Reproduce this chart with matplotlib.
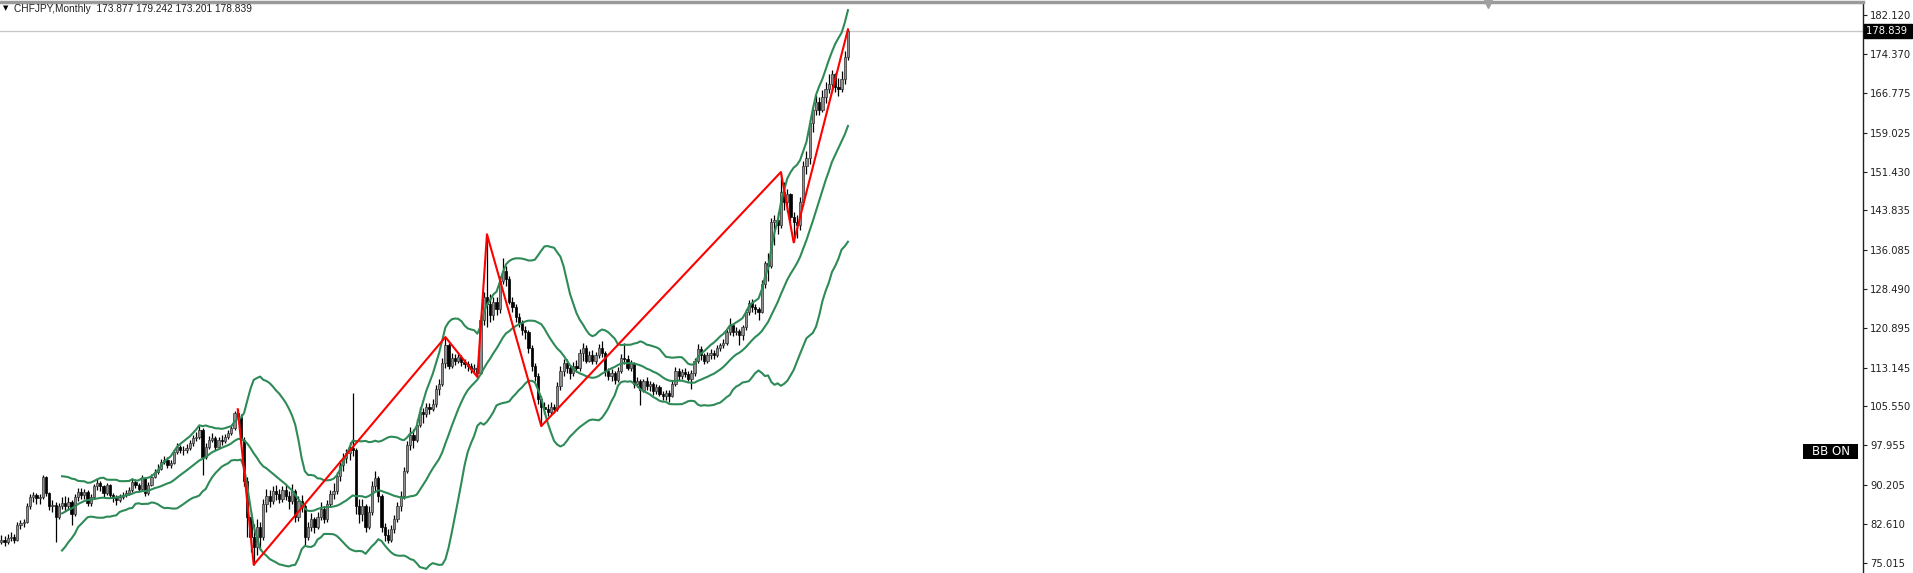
import matplotlib.pyplot as plt
import matplotlib.transforms as mtransforms
from matplotlib.patches import Rectangle
from matplotlib.lines import Line2D
import numpy as np
import pandas as pd

# CHFJPY monthly candles
title = "CHFJPY,Monthly"
last_ohlc = [173.877, 179.242, 173.201, 178.839]
first_open = 79.0

closes = [
    79.4, 79.1, 79.8, 80.1, 79.4, 82.4, 82.7, 83.0, 86.0, 87.9,
    88.2, 87.6, 87.9, 91.8, 88.6, 86.0, 86.3, 84.0, 86.0, 86.6,
    86.0, 86.9, 84.6, 87.9, 88.9, 88.2, 88.9, 86.6, 87.9, 89.9,
    90.5, 89.9, 88.6, 90.2, 88.2, 87.6, 87.3, 87.9, 88.2, 88.6,
    89.2, 90.8, 90.2, 89.5, 91.5, 88.6, 90.2, 91.8, 92.8, 93.4,
    94.7, 95.1, 94.1, 94.4, 96.7, 97.7, 97.0, 97.0, 97.4, 98.3,
    99.3, 99.6, 100.9, 95.7, 97.7, 99.0, 99.3, 97.7, 99.0, 98.7,
    99.6, 100.3, 101.3, 104.2, 103.5, 99.0, 91.0, 84.0, 80.0, 78.0,
    82.0, 80.0, 86.5, 88.0, 87.0, 89.0, 88.5, 87.5, 89.3, 88.0,
    87.0, 89.0, 84.0, 87.0, 86.0, 80.0, 82.0, 83.5, 82.0, 84.0,
    85.5, 83.5, 86.5, 88.5, 89.0, 92.0, 94.0, 95.5, 96.5, 97.5,
    97.0, 86.0, 84.5, 86.0, 82.0, 85.0, 90.0, 91.5, 88.0, 82.0,
    80.5, 79.5, 81.5, 83.5, 86.0, 88.0, 93.0, 98.0, 100.0, 99.0,
    102.0, 104.5, 104.0, 105.5, 105.0, 106.0, 109.0, 110.0, 114.0, 117.5,
    113.5, 115.0, 114.5, 115.3, 114.3, 113.8, 113.5, 112.8, 113.0, 112.0,
    122.5, 127.0, 125.5, 123.5, 126.0, 124.5, 130.0, 132.0, 130.5, 126.0,
    125.0, 123.0, 121.8, 120.5, 120.0, 117.0, 113.5, 111.5, 107.0, 105.5,
    105.0, 104.5, 105.5, 105.0, 109.5, 112.5, 114.0, 113.0, 112.0, 113.5,
    113.0, 116.0, 117.0, 114.5, 115.5, 114.5, 115.5, 117.0, 116.0, 112.5,
    111.5, 112.0, 110.8, 112.5, 115.0, 114.8, 113.0, 114.0, 110.0, 110.5,
    108.8, 110.5, 109.5, 110.0, 108.5, 109.3, 108.0, 107.5, 108.2, 107.5,
    110.0, 112.5, 111.5, 112.3, 111.8, 111.0, 112.0, 114.5, 116.8, 115.5,
    114.5, 115.6, 116.0, 115.5, 117.0, 117.5, 118.0, 120.0, 121.5, 120.0,
    120.3, 119.5, 121.0, 124.0, 125.8, 125.0, 124.5, 124.0, 129.5, 133.5,
    133.0, 141.5, 142.0, 141.0, 147.5, 145.5, 147.0, 142.5, 141.5, 141.0,
    145.5, 152.5, 154.0, 161.0, 163.5, 165.0, 163.5, 166.0, 167.5, 168.5,
    170.5, 168.0, 167.5, 169.5, 173.877, 178.839,
]

highs = [
    80.5, 80.2, 80.6, 81.0, 80.7, 82.9, 83.4, 83.6, 86.6, 88.5,
    88.9, 88.7, 88.5, 92.2, 91.9, 88.9, 87.2, 86.8, 86.6, 87.9,
    88.0, 87.8, 87.3, 88.5, 89.6, 89.6, 89.5, 89.2, 88.5, 90.3,
    91.4, 90.9, 90.2, 90.6, 90.4, 88.6, 88.2, 88.4, 88.9, 89.3,
    89.7, 91.5, 91.3, 90.6, 92.1, 91.8, 90.8, 92.3, 93.4, 94.3,
    95.3, 95.9, 95.6, 95.0, 97.2, 98.3, 98.1, 97.8, 98.2, 98.9,
    99.9, 100.5, 101.7, 101.3, 98.4, 99.8, 100.4, 99.8, 99.6, 99.9,
    100.2, 100.9, 102.0, 104.6, 105.0, 104.0, 99.5, 91.8, 85.0, 82.5,
    83.5, 83.0, 87.5, 89.5, 89.3, 90.0, 90.2, 89.5, 90.0, 90.1,
    89.0, 90.4, 89.5, 88.0, 88.3, 86.5, 83.0, 84.8, 84.0, 85.0,
    86.8, 86.0, 87.2, 89.3, 90.5, 92.8, 95.0, 96.5, 97.3, 98.5,
    108.2, 97.5, 87.5, 87.5, 86.5, 86.0, 91.0, 93.0, 92.0, 88.5,
    82.8, 81.5, 82.3, 84.3, 86.8, 89.0, 93.8, 98.8, 101.5, 101.2,
    103.0, 105.5, 105.3, 106.3, 106.2, 107.0, 109.8, 111.0, 115.0, 119.1,
    118.0, 116.0, 115.8, 116.0, 115.6, 114.8, 114.5, 114.0, 113.8, 113.5,
    123.5, 128.0, 139.2, 127.5, 127.0, 127.0, 131.0, 134.5, 133.0, 131.0,
    127.0, 125.5, 123.8, 122.5, 121.3, 120.5, 117.5, 114.0, 112.0, 107.5,
    106.5, 106.0, 106.4, 106.0, 110.3, 113.5, 114.8, 114.8, 113.6, 114.3,
    114.6, 116.8, 118.0, 117.6, 116.3, 116.5, 116.2, 117.8, 118.3, 116.4,
    113.0, 112.8, 112.5, 113.3, 115.8, 118.0, 115.5, 114.6, 114.3, 111.3,
    111.0, 111.0, 111.3, 110.6, 110.3, 110.0, 109.8, 108.5, 108.8, 108.7,
    110.6, 113.2, 113.0, 112.9, 113.0, 112.4, 112.6, 115.0, 117.8, 117.3,
    116.0, 116.2, 116.7, 116.6, 117.5, 118.0, 118.8, 120.6, 122.8, 121.8,
    121.0, 120.6, 121.5, 124.6, 126.4, 126.6, 125.6, 124.9, 130.2, 134.0,
    135.5, 142.3, 143.0, 143.5, 151.35, 149.5, 148.0, 147.3, 143.5, 143.0,
    146.5, 153.5, 155.5, 161.5, 164.5, 166.5, 166.0, 167.4, 169.0, 170.5,
    171.2, 170.8, 169.8, 171.0, 175.0, 179.242,
]

lows = [
    78.6, 78.3, 78.7, 79.2, 78.8, 79.2, 81.6, 82.0, 82.7, 85.5,
    86.8, 86.4, 86.5, 87.5, 88.0, 85.3, 85.0, 79.0, 83.5, 85.4,
    85.2, 85.3, 82.4, 84.2, 87.0, 87.5, 87.4, 86.1, 86.0, 87.5,
    89.3, 89.0, 87.8, 88.3, 87.6, 86.8, 86.2, 86.9, 87.4, 87.8,
    88.2, 88.9, 89.6, 88.8, 89.2, 88.0, 88.3, 89.9, 91.5, 92.4,
    93.1, 94.2, 93.6, 93.5, 94.2, 96.3, 96.4, 96.0, 96.5, 97.0,
    97.9, 98.8, 99.1, 92.1, 95.3, 97.2, 98.5, 97.0, 97.2, 98.0,
    98.3, 99.1, 99.9, 101.0, 102.6, 98.2, 90.0, 80.0, 77.0, 74.6,
    76.5, 77.5, 79.5, 85.0, 85.8, 86.5, 87.3, 86.6, 86.8, 87.2,
    85.5, 86.5, 83.0, 83.2, 85.0, 78.5, 79.5, 81.2, 80.9, 81.5,
    83.4, 82.7, 83.0, 85.9, 87.5, 88.4, 91.0, 93.0, 94.5, 95.0,
    95.8, 84.5, 82.8, 83.2, 81.0, 81.5, 84.3, 89.0, 86.8, 81.0,
    79.3, 78.8, 79.0, 80.8, 82.9, 85.2, 87.5, 92.5, 97.0, 97.5,
    98.5, 101.5, 102.4, 103.5, 104.0, 104.6, 105.5, 107.8, 109.5, 113.0,
    112.8, 113.0, 113.6, 114.0, 113.5, 113.0, 112.5, 112.0, 112.0, 111.3,
    111.8, 121.5, 121.0, 122.0, 122.5, 123.5, 123.8, 129.5, 129.0, 125.5,
    124.0, 122.0, 121.0, 119.5, 118.8, 116.0, 112.5, 110.5, 106.0, 101.7,
    104.0, 103.6, 104.0, 104.2, 104.6, 108.8, 111.5, 112.0, 111.0, 111.5,
    112.2, 112.5, 114.5, 114.0, 114.2, 113.8, 113.8, 115.0, 115.3, 111.5,
    110.7, 110.5, 110.0, 110.3, 112.0, 113.8, 112.6, 112.5, 109.2, 109.3,
    105.8, 108.3, 108.8, 108.5, 107.8, 108.0, 107.5, 106.8, 106.8, 106.5,
    107.3, 109.5, 110.8, 111.0, 111.2, 110.5, 109.0, 111.5, 114.0, 114.7,
    113.8, 114.0, 114.8, 114.8, 115.2, 116.4, 117.0, 117.5, 119.5, 119.3,
    119.5, 117.6, 118.6, 120.5, 123.5, 124.0, 123.6, 122.4, 123.8, 128.6,
    130.0, 132.5, 137.0, 139.2, 140.5, 144.0, 143.5, 141.5, 137.6, 138.5,
    140.0, 144.8, 151.0, 153.0, 159.2, 162.5, 162.5, 163.0, 164.8, 166.8,
    167.3, 167.0, 166.2, 167.0, 168.5, 173.201,
]

# ZigZag pivots: bar index and whether it is a high or a low
zz_bars = [74, 79, 139, 149, 152, 169, 244, 248, 265]
zz_kind = ["h", "l", "h", "l", "h", "l", "h", "l", "h"]

price_ticks = [182.120, 174.370, 166.775, 159.025, 151.430, 143.835, 136.085,
               128.490, 120.895, 113.145, 105.550, 97.955, 90.205, 82.610, 75.015]

W, H = 1913, 573
fig = plt.figure(figsize=(W / 100, H / 100), dpi=100)
fig.patch.set_facecolor("white")
ax = fig.add_axes([0, 0, 1863 / W, 571 / H])

c = np.array(closes)
o = np.concatenate([[first_open], c[:-1]])
h = np.maximum(np.array(highs), np.maximum(o, c))
l = np.minimum(np.array(lows), np.minimum(o, c))
x = np.arange(len(c))

# candles
ax.vlines(x, l, h, color="black", lw=0.9, zorder=2)
up = c >= o
body_w = 0.7
ax.bar(x[up], (c - o)[up], bottom=o[up], width=body_w, color="#8e8e8e",
       edgecolor="#333333", lw=0.5, zorder=3)
ax.bar(x[~up], (o - c)[~up], bottom=c[~up], width=body_w, color="black",
       edgecolor="black", lw=0.5, zorder=3)

# Bollinger bands 20, 2
s = pd.Series(c)
mid = s.rolling(20).mean()
sd = s.rolling(20).std(ddof=0)
bb_col = "#2e8b57"
for band in (mid + 2 * sd, mid, mid - 2 * sd):
    ax.plot(x, band, color=bb_col, lw=1.5, zorder=4)

# zigzag
zz_y = [h[i] if k == "h" else l[i] for i, k in zip(zz_bars, zz_kind)]
ax.plot(zz_bars, zz_y, color="#ff0000", lw=1.5, zorder=5)

# current price line
ax.axhline(last_ohlc[3], color="#c8c8c8", lw=1, zorder=1)

ax.set_xlim(-0.41, 582.7)
ax.set_ylim(72.99, 184.58)

for side in ("left", "bottom"):
    ax.spines[side].set_visible(False)
ax.spines["top"].set_color("#9a9a9a")
ax.spines["top"].set_linewidth(2.5)
ax.spines["right"].set_color("#202020")
ax.spines["right"].set_linewidth(1)

ax.set_xticks([])
ax.yaxis.tick_right()
ax.set_yticks(price_ticks)
ax.set_yticklabels([f"{v:.3f}" for v in price_ticks])
ax.tick_params(axis="y", direction="out", length=3, width=0.8, pad=2,
               labelsize=7.2, colors="#202020")

# price label box on the axis
trans = mtransforms.blended_transform_factory(ax.transAxes, ax.transData)
ax.text(1.0015, last_ohlc[3], f"{last_ohlc[3]:.3f} ", transform=trans,
        ha="left", va="center", fontsize=7.2, color="white", zorder=10,
        bbox=dict(boxstyle="square,pad=0.2", fc="black", ec="black"),
        clip_on=False)

# header
fig.text(3 / W, 1 - 8 / H, "\u25BC", fontsize=5, color="black", va="center", ha="left")
fig.text(14 / W, 1 - 9 / H,
         f"{title}  " + " ".join(f"{v:.3f}" for v in last_ohlc),
         fontsize=7.3, family="Liberation Sans", color="#202020", va="center", ha="left")

# shift marker at the top
fig.add_artist(Line2D([1488 / W], [1 - 4 / H], transform=fig.transFigure,
                      marker="v", markersize=6, color="#a0a0a0", ls="none",
                      zorder=20))

# BB ON label
fig.patches.append(Rectangle((1803 / W, 1 - 459 / H), 55 / W, 15 / H,
                             transform=fig.transFigure, fc="black", ec="none"))
fig.text(1831 / W, 1 - 451.5 / H, "BB ON", fontsize=8.5, color="white",
         ha="center", va="center")

fig.savefig("out.png", dpi=100, facecolor="white")
